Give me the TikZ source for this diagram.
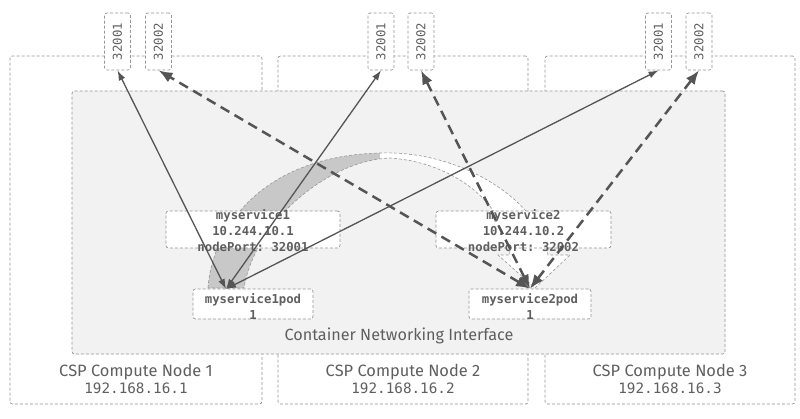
\documentclass[tikz,border=0pt]{standalone}
\usepackage{fontspec}
\setmainfont{Fira Sans}
\setmonofont{DejaVu Sans Mono}
\usepackage{tikz}
\usetikzlibrary{arrows.meta, calc}
\definecolor{lineGray}{RGB}{85,85,85}
\definecolor{boxGray}{RGB}{150,150,150}
\definecolor{cniFill}{RGB}{242,242,242}
\definecolor{bandGray}{RGB}{200,200,200}
\definecolor{textGray}{RGB}{95,95,95}

\begin{document}
\begin{tikzpicture}[x=1pt, y=-1pt,
	box/.style={draw=boxGray, dash pattern=on 3pt off 2pt, line width=0.7pt, rounded corners=2.5pt, inner sep=0pt, fill=white},
	hostbox/.style={box, minimum height=348pt},
	portbox/.style={box, minimum width=26pt, minimum height=57pt, text=textGray, font=\ttfamily\fontsize{12.3}{14}\selectfont},
	monotext/.style={text=textGray, align=center, inner sep=0pt, font=\ttfamily\bfseries\fontsize{12.3}{16}\selectfont},
	hostlabel/.style={text=textGray, align=center, inner sep=0pt},
	solidlink/.style={draw=lineGray, line width=1.3pt, {Latex[length=10pt,width=7pt]}-{Latex[length=10pt,width=7pt]}},
	dashlink/.style={draw=lineGray, line width=2.5pt, dash pattern=on 10pt off 6pt, {Latex[length=14pt,width=11pt]}-{Latex[length=14pt,width=11pt]}}
]
	\useasboundingbox (0,0) rectangle (800,418);

	% Compute nodes
	\node[hostbox, minimum width=252pt] (host1) at (136,230) {};
	\node[hostbox, minimum width=250pt] (host2) at (403,230) {};
	\node[hostbox, minimum width=250pt] (host3) at (670,230) {};
	\node[hostlabel] (host1lbl) at (136,379) {\fontsize{16.4}{18}\selectfont CSP Compute Node 1\\[2pt]{\ttfamily\fontsize{14.3}{17}\selectfont 192.168.16.1}};
	\node[hostlabel] (host2lbl) at (403,379) {\fontsize{16.4}{18}\selectfont CSP Compute Node 2\\[2pt]{\ttfamily\fontsize{14.3}{17}\selectfont 192.168.16.2}};
	\node[hostlabel] (host3lbl) at (670,379) {\fontsize{16.4}{18}\selectfont CSP Compute Node 3\\[2pt]{\ttfamily\fontsize{14.3}{17}\selectfont 192.168.16.3}};

	% Node ports
	\node[portbox] (n1p1) at (117.5,41.5) {\rotatebox{90}{32001}};
	\node[portbox] (n1p2) at (158.5,41.5) {\rotatebox{90}{32002}};
	\node[portbox] (n2p1) at (381,41.5) {\rotatebox{90}{32001}};
	\node[portbox] (n2p2) at (421,41.5) {\rotatebox{90}{32002}};
	\node[portbox] (n3p1) at (658.5,41.5) {\rotatebox{90}{32001}};
	\node[portbox] (n3p2) at (699,41.5) {\rotatebox{90}{32002}};

	% Container Networking Interface
	\node[box, fill=cniFill, minimum width=653pt, minimum height=263pt] (cni) at (398.5,222.5) {};
	\node[hostlabel, font=\fontsize{16.2}{18}\selectfont] (cnilbl) at (399,336) {Container Networking Interface};

	% Curved band between the pods
	\draw[draw=boxGray, dash pattern=on 3pt off 2pt, line width=0.6pt, fill=white,
		path picture={\fill[bandGray] (0,0) rectangle (380,418);}]
		(208,288) .. controls (212,230) and (260,156) .. (380,153)
		.. controls (460,150) and (540,200) .. (548,255)
		-- (570,255) -- (535,288) -- (498,255) -- (510,255)
		.. controls (505,200) and (450,162) .. (390,158)
		.. controls (330,160) and (255,220) .. (244,288) -- cycle;

	% Services and pods
	\node[box, minimum width=174pt, minimum height=37pt] (svc1) at (253,229.5) {};
	\node[box, minimum width=175pt, minimum height=37pt] (svc2) at (523.5,229.5) {};
	\node[monotext] (svc1txt) at (253,231) {myservice1\\10.244.10.1\\nodePort: 32001};
	\node[monotext] (svc2txt) at (523.5,231) {myservice2\\10.244.10.2\\nodePort: 32002};
	\node[box, minimum width=120pt, minimum height=30pt] (pod1) at (253,304) {};
	\node[box, minimum width=122pt, minimum height=30pt] (pod2) at (530,304) {};
	\node[monotext] (pod1txt) at (253,306) {myservice1pod\\1};
	\node[monotext] (pod2txt) at (530,306) {myservice2pod\\1};
	\coordinate (pod1in) at (226,289);

	% Connections
	\draw[solidlink] (pod1in) -- (n1p1.south);
	\draw[solidlink] (pod1in) -- (n2p1.south);
	\draw[solidlink] (pod1in) -- (n3p1.south);

	\draw[dashlink] (pod2.north) -- (n1p2.south);
	\draw[dashlink] (pod2.north) -- (n2p2.south);
	\draw[dashlink] (pod2.north) -- (n3p2.south);
\end{tikzpicture}
\end{document}
